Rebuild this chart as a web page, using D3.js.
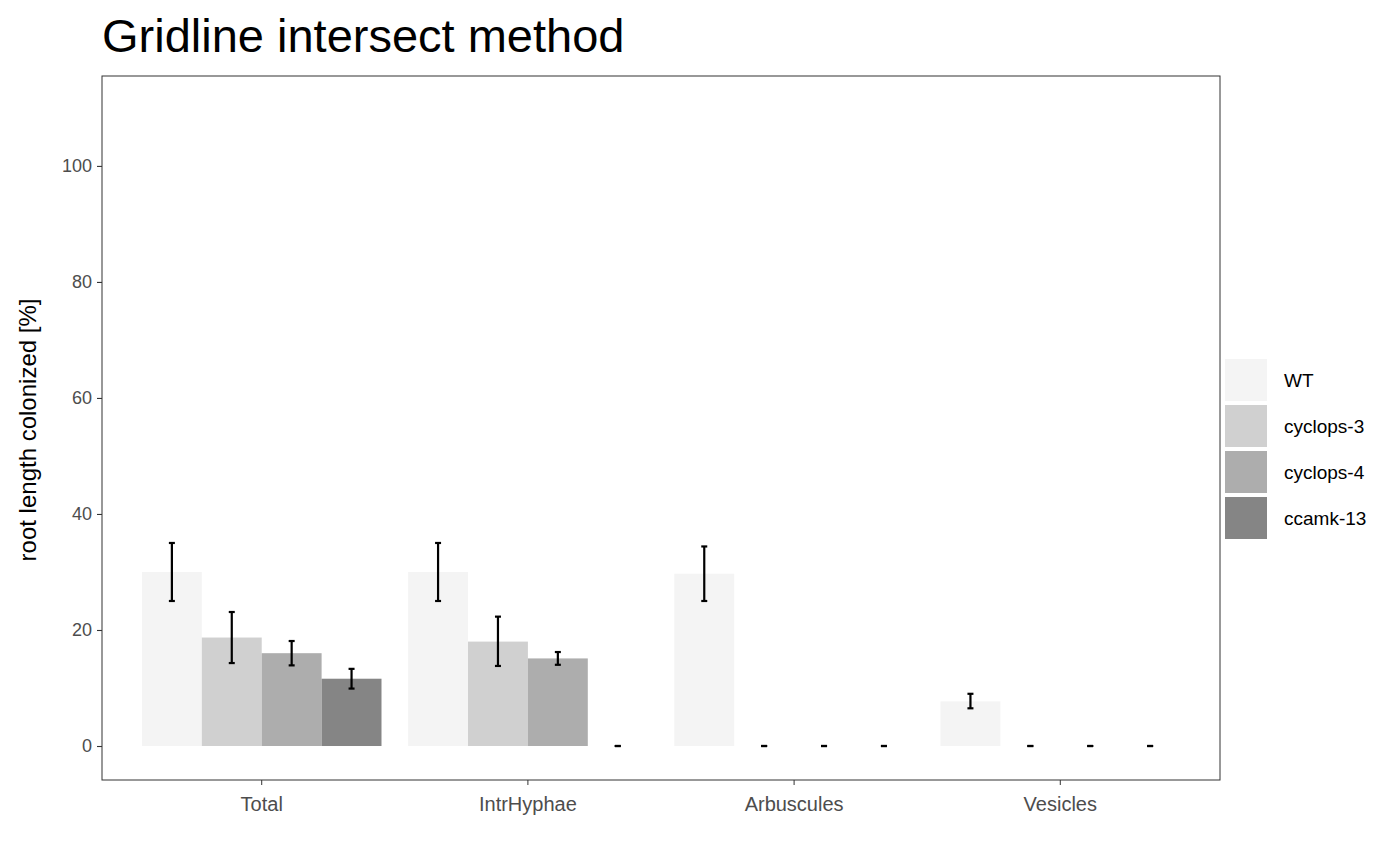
<!DOCTYPE html>
<html><head><meta charset="utf-8">
<script src="https://cdn.jsdelivr.net/npm/d3@7"></script>
<style>body{margin:0;background:#fff}text{font-family:"Liberation Sans",Arial,sans-serif}</style>
</head><body><svg id="c" width="1400" height="865"></svg>
<script>
const categories = ["Total", "IntrHyphae", "Arbuscules", "Vesicles"];
const genotypes = ["WT", "cyclops-3", "cyclops-4", "ccamk-13"];
const colors = ["#f4f4f4", "#d0d0d0", "#adadad", "#858585"];
// mean, lower, upper per category, per genotype
const means = [[30, 18.7, 16, 11.6], [30, 18, 15.1, 0], [29.7, 0, 0, 0], [7.7, 0, 0, 0]];
const lows  = [[25, 14.3, 13.9, 9.9], [25, 13.8, 14, 0], [25, 0, 0, 0], [6.5, 0, 0, 0]];
const highs = [[35, 23.1, 18.1, 13.3], [35, 22.3, 16.2, 0], [34.4, 0, 0, 0], [9, 0, 0, 0]];
const yTicks = [0, 20, 40, 60, 80, 100];

const svg = d3.select("#c");
const L = 102, R = 1220, T = 76, B = 780;
const y = d3.scaleLinear().domain([-5.86, 115.5]).range([B, T]);
// ggplot discrete expansion: 0.6 on each side
const step = (R - L) / 4.2;
const cx = c => L + step * (0.6 + categories.indexOf(c));
const xs = d3.scaleBand().domain(genotypes).range([-step * 0.45, step * 0.45]);

svg.append("rect").attr("x", L).attr("y", T).attr("width", R - L).attr("height", B - T)
  .attr("fill", "#fff").attr("stroke", "#333").attr("stroke-width", 1);

categories.forEach((c, i) => {
  genotypes.forEach((g, j) => {
    const x0 = cx(c) + xs(g);
    svg.append("rect").attr("x", x0).attr("width", xs.bandwidth())
      .attr("y", y(means[i][j])).attr("height", y(0) - y(means[i][j])).attr("fill", colors[j]);
    const m = x0 + xs.bandwidth() / 2, hw = 3;
    const e = svg.append("g").attr("stroke", "#000").attr("stroke-width", 2.2);
    e.append("line").attr("x1", m).attr("x2", m).attr("y1", y(lows[i][j])).attr("y2", y(highs[i][j]));
    e.append("line").attr("x1", m - hw).attr("x2", m + hw).attr("y1", y(lows[i][j])).attr("y2", y(lows[i][j]));
    e.append("line").attr("x1", m - hw).attr("x2", m + hw).attr("y1", y(highs[i][j])).attr("y2", y(highs[i][j]));
  });
});

const ya = svg.append("g").attr("transform", `translate(${L},0)`)
  .call(d3.axisLeft(y).tickValues(yTicks).tickSize(5).tickPadding(5));
ya.select(".domain").remove();
ya.selectAll("line").attr("stroke", "#333").attr("stroke-width", 1.1);
ya.selectAll("text").attr("font-size", 18).attr("fill", "#4d4d4d");

categories.forEach(c => {
  svg.append("line").attr("x1", cx(c)).attr("x2", cx(c)).attr("y1", B).attr("y2", B + 5).attr("stroke", "#333");
  svg.append("text").attr("x", cx(c)).attr("y", B + 31).attr("text-anchor", "middle")
    .attr("font-size", 20).attr("fill", "#4d4d4d").text(c);
});

svg.append("text").attr("transform", `translate(36,${(T + B) / 2 + 2}) rotate(-90)`)
  .attr("text-anchor", "middle").attr("font-size", 24).text("root length colonized [%]");
svg.append("text").attr("x", L).attr("y", 52).attr("font-size", 47).text("Gridline intersect method");

genotypes.forEach((g, j) => {
  const ky = 359 + j * 46;
  svg.append("rect").attr("x", 1225).attr("y", ky).attr("width", 42).attr("height", 42).attr("fill", colors[j]);
  svg.append("text").attr("x", 1284).attr("y", ky + 28).attr("font-size", 19).text(g);
});
</script></body></html>
